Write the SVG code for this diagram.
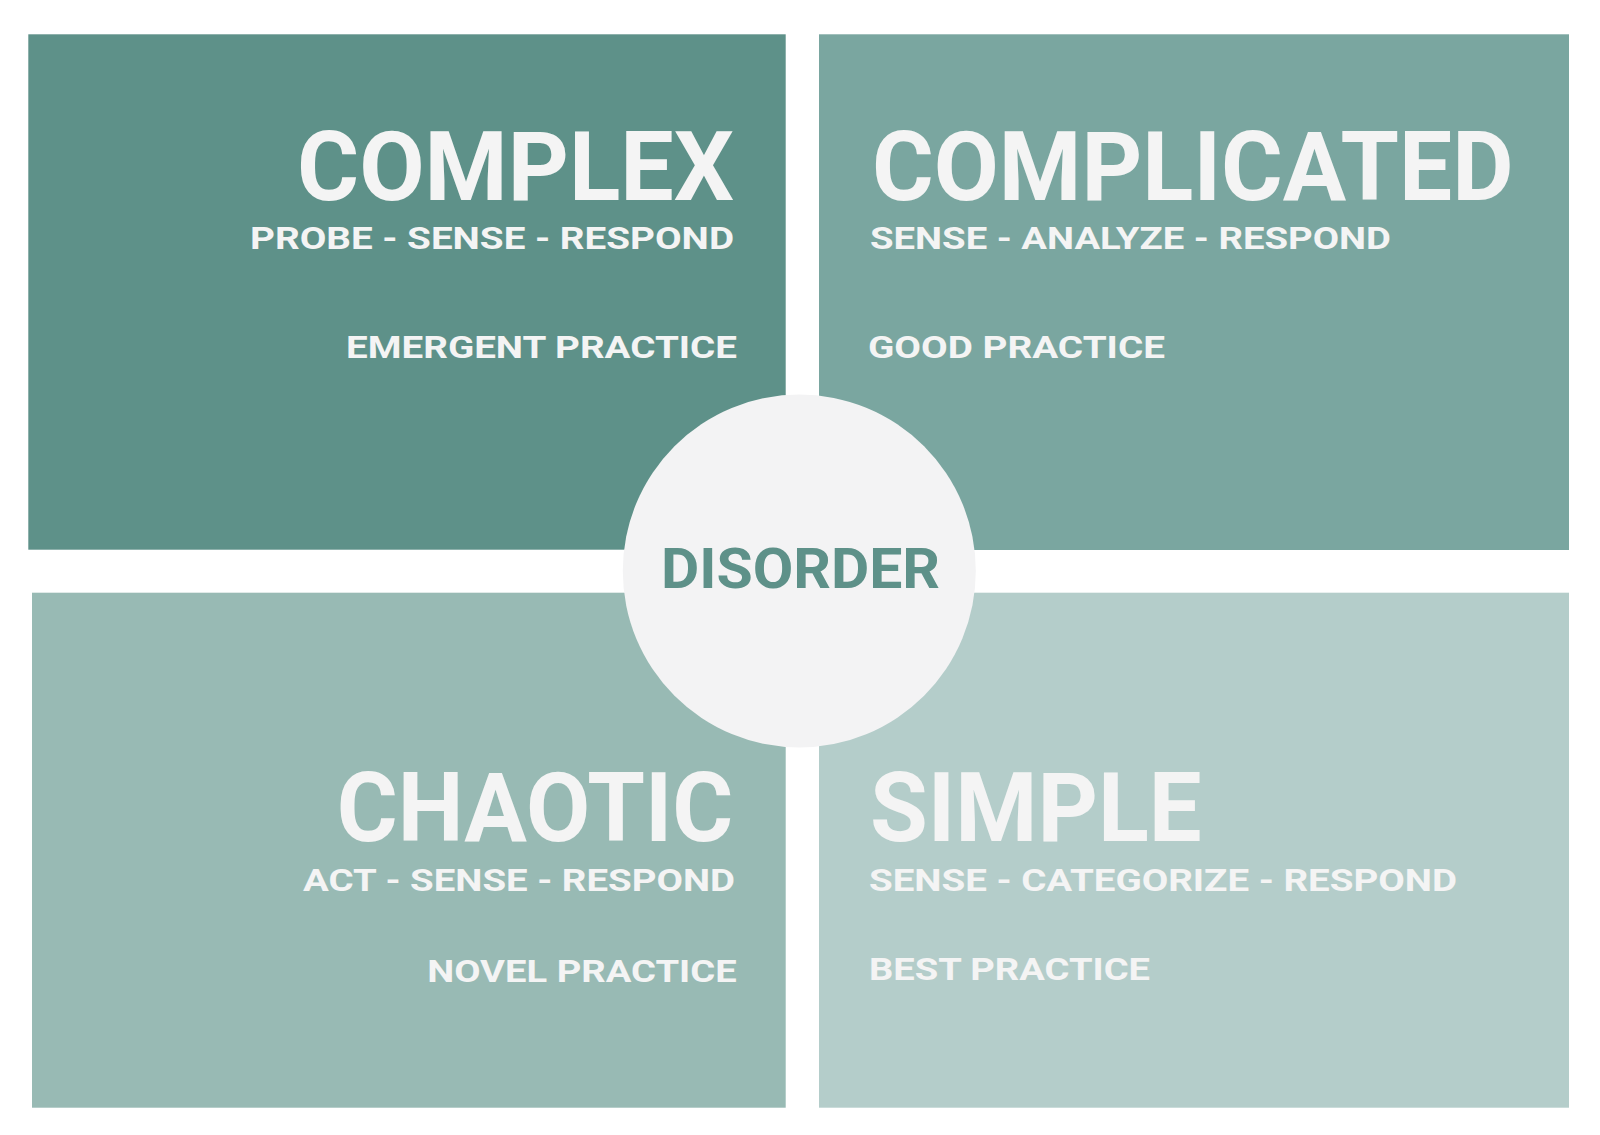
<svg xmlns="http://www.w3.org/2000/svg" width="1600" height="1135" viewBox="0 0 1600 1135">
<style>
  text { font-family: Roboto, "Liberation Sans", sans-serif; font-weight: 700; fill: #f4f4f4; }
  .big { font-size: 96px; }
  .mid { font-size: 31px; }
  .end { text-anchor: end; }
  .dis { font-size: 56px; fill: #5e9189; }
</style>
<rect width="1600" height="1135" fill="#ffffff"/>
<g id="complex">
  <rect x="28.3" y="34.3" width="757.4" height="515.4" fill="#5e9189"/>
  <text class="big end" x="734" y="199.5" textLength="437" lengthAdjust="spacingAndGlyphs">COMPLEX</text>
  <text class="mid end" x="734" y="248.5" textLength="484" lengthAdjust="spacingAndGlyphs">PROBE - SENSE - RESPOND</text>
  <text class="mid end" x="737" y="358" textLength="391" lengthAdjust="spacingAndGlyphs">EMERGENT PRACTICE</text>
</g>
<g id="complicated">
  <rect x="819" y="34.3" width="750" height="515.7" fill="#7aa6a0"/>
  <text class="big" x="872" y="199.5" textLength="641.5" lengthAdjust="spacingAndGlyphs">COMPLICATED</text>
  <text class="mid" x="870" y="249" textLength="521" lengthAdjust="spacingAndGlyphs">SENSE - ANALYZE - RESPOND</text>
  <text class="mid" x="868" y="358" textLength="297" lengthAdjust="spacingAndGlyphs">GOOD PRACTICE</text>
</g>
<g id="chaotic">
  <rect x="32" y="592.7" width="753.7" height="515" fill="#98bab4"/>
  <text class="big end" x="733.3" y="840.7" textLength="396.6" lengthAdjust="spacingAndGlyphs">CHAOTIC</text>
  <text class="mid end" x="735" y="891" textLength="432" lengthAdjust="spacingAndGlyphs">ACT - SENSE - RESPOND</text>
  <text class="mid end" x="736.7" y="982.3" textLength="309.4" lengthAdjust="spacingAndGlyphs">NOVEL PRACTICE</text>
</g>
<g id="simple">
  <rect x="819" y="592.7" width="750" height="515" fill="#b4cdca"/>
  <text class="big" x="870" y="841" textLength="331.7" lengthAdjust="spacingAndGlyphs">SIMPLE</text>
  <text class="mid" x="869" y="891.3" textLength="588" lengthAdjust="spacingAndGlyphs">SENSE - CATEGORIZE - RESPOND</text>
  <text class="mid" x="869" y="980.3" textLength="281" lengthAdjust="spacingAndGlyphs">BEST PRACTICE</text>
</g>
<g id="disorder">
  <circle cx="799.3" cy="571" r="176.5" fill="#f3f3f4"/>
  <text class="dis" x="661" y="588" textLength="279" lengthAdjust="spacingAndGlyphs">DISORDER</text>
</g>
<g id="connectors"/>
</svg>
